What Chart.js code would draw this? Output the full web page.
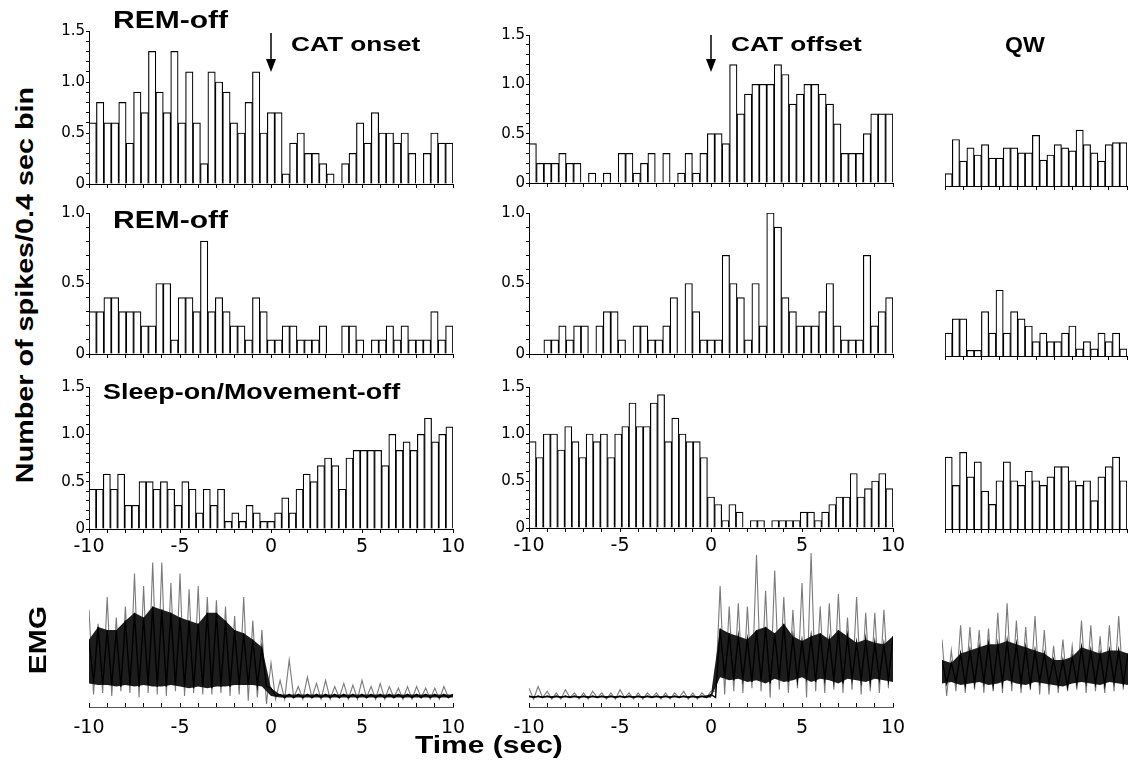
<!DOCTYPE html>
<html lang="es">
<head>
<meta charset="utf-8">
<title>Histogramas CAT</title>
<script src="https://cdn.jsdelivr.net/npm/chart.js@4.4.1/dist/chart.umd.min.js"></script>
<style>
    body { margin: 0; width: 1130px; height: 765px; position: relative; overflow: hidden; background: #fff; font-family: Arial, "Liberation Sans", sans-serif; color: #000; }
    canvas { position: absolute; }
    .titulo { position: absolute; font-weight: bold; line-height: 1; white-space: nowrap; transform-origin: 0 50%; transform: scaleX(1.25); }
    .vertical { position: absolute; font-weight: bold; line-height: 1; white-space: nowrap; transform: translate(-50%, -50%) rotate(-90deg) scaleX(1.25); }
</style>
</head>
<body>
<canvas id="h11" width="429" height="173" style="left:44px;top:21px"></canvas>
<canvas id="h12" width="429" height="168" style="left:484px;top:25px"></canvas>
<canvas id="h13" width="188" height="173" style="left:942px;top:21px"></canvas>
<canvas id="h21" width="429" height="161" style="left:44px;top:203px"></canvas>
<canvas id="h22" width="429" height="161" style="left:484px;top:203px"></canvas>
<canvas id="h23" width="188" height="161" style="left:942px;top:203px"></canvas>
<canvas id="h31" width="429" height="182" style="left:44px;top:377px"></canvas>
<canvas id="h32" width="429" height="181" style="left:484px;top:377px"></canvas>
<canvas id="h33" width="188" height="160" style="left:942px;top:377px"></canvas>
<canvas id="e1" width="428" height="192" style="left:57px;top:550px"></canvas>
<canvas id="e2" width="428" height="192" style="left:497px;top:550px"></canvas>
<canvas id="e3" width="188" height="157" style="left:942px;top:550px"></canvas>

<div class="titulo" style="left:113px;top:8px;font-size:24px">REM-off</div>
<div class="titulo" style="left:291px;top:33px;font-size:21px">CAT onset</div>
<div class="titulo" style="left:731px;top:33px;font-size:21px">CAT offset</div>
<div class="titulo" style="left:1005px;top:34px;font-size:22px;transform:scaleX(1.05)">QW</div>
<div class="titulo" style="left:113px;top:208px;font-size:24px">REM-off</div>
<div class="titulo" style="left:103px;top:382px;font-size:21.5px">Sleep-on/Movement-off</div>
<div class="vertical" style="left:25px;top:285px;font-size:23px">Number of spikes/0.4 sec bin</div>
<div class="vertical" style="left:38px;top:640px;font-size:24px">EMG</div>
<div class="titulo" style="left:415px;top:733px;font-size:24px">Time (sec)</div>

<script>
// ===== Datos =====
// Histogramas: spikes por bin de 0.4 s, de -10 a 10 s
const remOffInicio = [0.6,0.8,0.6,0.6,0.8,0.4,0.9,0.7,1.3,0.9,0.7,1.3,0.6,1.1,0.6,0.2,1.1,1.0,0.9,0.6,0.5,0.8,1.1,0.5,0.7,0.7,0.1,0.4,0.5,0.3,0.3,0.2,0.1,0,0.2,0.3,0.6,0.4,0.7,0.5,0.5,0.4,0.5,0.3,0,0.3,0.5,0.4,0.4];
const remOff2Inicio = [0.3,0.3,0.4,0.4,0.3,0.3,0.3,0.2,0.2,0.5,0.5,0.1,0.4,0.4,0.3,0.8,0.3,0.4,0.3,0.2,0.2,0.1,0.4,0.3,0.1,0.1,0.2,0.2,0.1,0.1,0.1,0.2,0,0,0.2,0.2,0.1,0,0.1,0.1,0.2,0.1,0.2,0.1,0.1,0.1,0.3,0.1,0.2];
const suenoOnInicio = [0.42,0.42,0.58,0.42,0.58,0.25,0.25,0.5,0.5,0.42,0.5,0.42,0.25,0.5,0.42,0.17,0.42,0.25,0.42,0.08,0.17,0.08,0.25,0.17,0.08,0.08,0.17,0.33,0.17,0.42,0.58,0.5,0.67,0.75,0.67,0.42,0.75,0.83,0.83,0.83,0.83,0.67,1.0,0.83,0.92,0.83,1.0,1.17,0.92,1.0,1.08];
const remOffFin = [0.4,0.2,0.2,0.2,0.3,0.2,0.2,0,0.1,0,0.1,0,0.3,0.3,0.1,0.2,0.3,0,0.3,0,0.1,0.3,0.1,0.3,0.5,0.5,0.4,1.2,0.7,0.9,1.0,1.0,1.0,1.2,1.1,0.8,0.9,1.0,1.0,0.9,0.8,0.6,0.3,0.3,0.3,0.5,0.7,0.7,0.7];
const remOff2Fin = [0,0,0.1,0.1,0.2,0.1,0.2,0.2,0,0.2,0.3,0.3,0.1,0,0.2,0.2,0.1,0.1,0.2,0.4,0,0.5,0.3,0.1,0.1,0.1,0.7,0.5,0.4,0.1,0.5,0.2,1.0,0.9,0.4,0.3,0.2,0.2,0.2,0.3,0.5,0.2,0.1,0.1,0.1,0.7,0.2,0.3,0.4];
const suenoOnFin = [0.92,0.75,1.0,1.0,0.83,1.08,0.92,0.75,1.0,0.92,1.0,0.75,1.0,1.08,1.33,1.08,1.08,1.33,1.42,0.92,1.17,1.0,0.92,0.92,0.75,0.33,0.25,0.08,0.25,0.17,0,0.08,0.08,0,0.08,0.08,0.08,0.08,0.17,0.17,0.08,0.17,0.25,0.33,0.33,0.58,0.33,0.42,0.5,0.58,0.42];

// QW: 25 bins de 0.4 s (10 s)
const qwFila1 = [0.12,0.45,0.24,0.37,0.3,0.4,0.27,0.27,0.37,0.37,0.32,0.32,0.49,0.25,0.3,0.4,0.37,0.34,0.54,0.4,0.32,0.24,0.4,0.42,0.42];
const qwFila2 = [0.16,0.26,0.26,0.04,0.04,0.31,0.16,0.46,0.16,0.31,0.26,0.21,0.1,0.16,0.1,0.1,0.16,0.21,0.05,0.1,0.05,0.16,0.1,0.16,0.05];
const qwFila3 = [0.76,0.46,0.81,0.55,0.71,0.4,0.26,0.51,0.71,0.51,0.46,0.61,0.51,0.46,0.55,0.66,0.66,0.51,0.46,0.51,0.3,0.55,0.66,0.76,0.51];

// EMG (unidades arbitrarias): picos cada 0.5 s, valles a mitad de camino, banda oscura cada 0.5 s
const emgInicioPicos = [62,53,70,57,64,85,77,92,92,79,85,75,77,70,68,64,58,70,55,49,28,17,30,13,19,15,17,13,15,14,17,13,15,13,12,13,13,12,12,13];
const emgInicioValles = [8,9,7,10,9,6,9,8,7,10,7,9,8,8,9,7,8,4,6,2,5,5,6,5,6,5,5,6,5,5,6,5,5,6,5,5,6,5,5,6];
const emgInicioSup = [43,51,49,49,55,60,57,64,62,60,57,55,53,60,60,55,49,47,43,38,12,8,8,8,8,8,8,8,8,8,8,8,8,8,8,8,8,8,8,8,8];
const emgInicioInf = [15,14,14,13,14,13,14,13,13,14,13,12,13,12,13,13,14,14,14,13,7,6,6,6,6,6,6,6,6,6,6,6,6,6,6,6,6,6,6,6,6];

const emgFinPicos = [12,13,10,9,11,9,9,10,9,9,11,9,9,9,9,9,9,10,9,9,10,77,64,66,64,97,74,87,70,62,79,98,64,66,72,57,70,60,60,62];
const emgFinValles = [5,6,5,5,6,5,5,6,5,5,6,5,5,6,5,5,6,5,5,6,10,8,10,9,12,10,6,11,9,12,6,10,9,11,9,11,8,10,9,12];
const emgFinSup = [7,7,7,7,7,7,7,7,7,7,7,7,7,7,7,7,7,7,7,7,8,50,47,45,43,49,51,47,53,45,42,45,47,43,49,45,41,43,41,40,45];
const emgFinInf = [6,6,6,6,6,6,6,6,6,6,6,6,6,6,6,6,6,6,6,6,6,19,17,18,16,17,15,18,16,17,19,16,18,17,15,18,17,16,18,17,16];

const emgQwPicos = [43,36,52,51,49,50,60,66,55,51,58,49,39,43,39,55,52,45,52,58];
const emgQwValles = [7,10,9,11,9,10,9,10,9,11,8,8,9,10,11,9,10,9,10,11];
const emgQwSup = [30,28,34,36,38,40,40,42,40,38,36,34,30,30,32,38,36,34,36,36,34];
const emgQwInf = [15,16,14,15,16,14,15,17,15,14,16,15,14,13,15,16,15,14,16,15,14];

const etiquetasTiempo = [-10, -5, 0, 5, 10];
const etiquetasY = [0, 0.5, 1.0, 1.5];

// ===== Funciones =====
function puntosBins(valores, xMin, xMax) {
    let ancho = (xMax - xMin) / valores.length;
    let puntos = [];
    for (let i = 0; i < valores.length; i++) {
        puntos.push({ x: xMin + ancho * (i + 0.5), y: valores[i] });
    }
    return puntos;
}

function puntosTraza(valores, xMin, paso) {
    let puntos = [];
    for (let i = 0; i < valores.length; i++) {
        puntos.push({ x: xMin + paso * i, y: valores[i] });
    }
    return puntos;
}

// une picos (en t) y valles (en t + paso/2) para dar la textura del EMG
function zigzag(picos, valles, xMin, paso) {
    let puntos = [];
    for (let i = 0; i < picos.length; i++) {
        puntos.push({ x: xMin + paso * i, y: picos[i] });
        if (i < valles.length) {
            puntos.push({ x: xMin + paso * (i + 0.5), y: valles[i] });
        }
    }
    return puntos;
}

function etiquetaY(v) {
    for (let e of etiquetasY) {
        if (Math.abs(v - e) < 1e-6) {
            return e === 0 ? '0' : e.toFixed(1);
        }
    }
    return '';
}

// flecha que marca el tiempo 0 (CAT onset / offset)
const flecha = {
    id: 'flecha',
    afterDraw(chart, args, op) {
        if (!op || !op.mostrar) return;
        const c = chart.ctx;
        const x = chart.scales.x.getPixelForValue(0);
        const y1 = chart.chartArea.top + op.desde;
        const y2 = chart.chartArea.top + op.hasta;
        c.save();
        c.strokeStyle = '#000';
        c.fillStyle = '#000';
        c.lineWidth = 1.5;
        c.beginPath();
        c.moveTo(x, y1);
        c.lineTo(x, y2 - 10);
        c.stroke();
        c.beginPath();
        c.moveTo(x - 5, y2 - 13);
        c.lineTo(x + 5, y2 - 13);
        c.lineTo(x, y2);
        c.closePath();
        c.fill();
        c.restore();
    }
};

function histograma(id, valores, cfg) {
    const ctx = document.getElementById(id).getContext('2d');
    return new Chart(ctx, {
        type: 'bar',
        data: {
            datasets: [{
                data: puntosBins(valores, cfg.xMin, cfg.xMax),
                backgroundColor: '#ffffff',
                borderColor: '#000000',
                borderWidth: 1.2,
                borderSkipped: 'start',
                barPercentage: 1,
                categoryPercentage: 1
            }]
        },
        options: {
            responsive: false,
            animation: false,
            events: [],
            layout: { padding: { top: 10, right: cfg.derecha, left: 0, bottom: 0 } },
            plugins: {
                legend: { display: false },
                tooltip: { enabled: false },
                flecha: cfg.flecha || {}
            },
            scales: {
                x: {
                    type: 'linear',
                    min: cfg.xMin,
                    max: cfg.xMax,
                    offset: false,
                    grid: { drawOnChartArea: false, offset: false, color: '#000', tickLength: 4 },
                    border: { color: '#000', width: 1 },
                    ticks: {
                        stepSize: cfg.pasoX,
                        autoSkip: false,
                        maxRotation: 0,
                        padding: 3,
                        color: '#000',
                        font: { family: 'DejaVu Sans', size: 19 },
                        callback: v => (cfg.etiquetas && etiquetasTiempo.includes(v)) ? String(v) : ''
                    },
                    afterFit: s => { s.height = cfg.altoX; }
                },
                y: {
                    display: cfg.ejeY,
                    min: 0,
                    max: cfg.yMax,
                    grid: { drawOnChartArea: false, color: '#000', tickLength: 3 },
                    border: { color: '#000', width: 1 },
                    ticks: {
                        stepSize: 0.1,
                        autoSkip: false,
                        maxTicksLimit: 100,
                        padding: 1,
                        color: '#000',
                        font: { family: 'DejaVu Sans', size: 15 },
                        callback: v => etiquetaY(v)
                    },
                    afterFit: s => { s.width = cfg.ejeY ? 45 : 0; }
                }
            }
        },
        plugins: [flecha]
    });
}

function trazaEMG(id, picos, valles, sup, inf, cfg) {
    const ctx = document.getElementById(id).getContext('2d');
    return new Chart(ctx, {
        type: 'line',
        data: {
            datasets: [{
                // textura oscura: banda superior/inferior alternadas
                data: zigzag(sup, inf, cfg.xMin, 0.5),
                borderColor: '#000',
                borderWidth: 1.4,
                pointRadius: 0,
                fill: false
            }, {
                data: puntosTraza(sup, cfg.xMin, 0.5),
                borderWidth: 0,
                backgroundColor: '#1c1c1c',
                pointRadius: 0,
                fill: '+1'
            }, {
                data: puntosTraza(inf, cfg.xMin, 0.5),
                borderWidth: 0,
                pointRadius: 0,
                fill: false
            }, {
                data: zigzag(picos, valles, cfg.xMin, 0.5),
                borderColor: '#7a7a7a',
                borderWidth: 1.1,
                pointRadius: 0,
                fill: false
            }]
        },
        options: {
            responsive: false,
            animation: false,
            events: [],
            layout: { padding: { top: 0, right: cfg.derecha, left: cfg.izquierda, bottom: 0 } },
            plugins: { legend: { display: false }, tooltip: { enabled: false } },
            scales: {
                x: {
                    type: 'linear',
                    display: cfg.ejeX,
                    min: cfg.xMin,
                    max: cfg.xMax,
                    grid: { drawOnChartArea: false, color: '#000', tickLength: -4 },
                    border: { color: '#555', width: 1 },
                    ticks: {
                        stepSize: 1,
                        autoSkip: false,
                        maxRotation: 0,
                        padding: 14,
                        color: '#000',
                        font: { family: 'DejaVu Sans', size: 19 },
                        callback: v => etiquetasTiempo.includes(v) ? String(v) : ''
                    },
                    afterFit: s => { s.height = cfg.ejeX ? 35 : 0; }
                },
                y: { display: false, min: 0, max: 100 }
            }
        }
    });
}

// ===== Graficas =====
histograma('h11', remOffInicio, { xMin: -10, xMax: 10, pasoX: 1, yMax: 1.5, ejeY: true, etiquetas: false, altoX: 8, derecha: 20, flecha: { mostrar: true, desde: 2, hasta: 41 } });
histograma('h12', remOffFin, { xMin: -10, xMax: 10, pasoX: 1, yMax: 1.5, ejeY: true, etiquetas: false, altoX: 8, derecha: 20, flecha: { mostrar: true, desde: 0, hasta: 37 } });
histograma('h13', qwFila1, { xMin: 0, xMax: 10, pasoX: 1, yMax: 1.5, ejeY: false, etiquetas: false, altoX: 8, derecha: 2 });

histograma('h21', remOff2Inicio, { xMin: -10, xMax: 10, pasoX: 1, yMax: 1.0, ejeY: true, etiquetas: false, altoX: 8, derecha: 20 });
histograma('h22', remOff2Fin, { xMin: -10, xMax: 10, pasoX: 1, yMax: 1.0, ejeY: true, etiquetas: false, altoX: 8, derecha: 20 });
histograma('h23', qwFila2, { xMin: 0, xMax: 10, pasoX: 1, yMax: 1.0, ejeY: false, etiquetas: false, altoX: 8, derecha: 2 });

histograma('h31', suenoOnInicio, { xMin: -10, xMax: 10, pasoX: 1, yMax: 1.5, ejeY: true, etiquetas: true, altoX: 30, derecha: 20 });
histograma('h32', suenoOnFin, { xMin: -10, xMax: 10, pasoX: 1, yMax: 1.5, ejeY: true, etiquetas: true, altoX: 30, derecha: 20 });
histograma('h33', qwFila3, { xMin: 0, xMax: 10, pasoX: 0.4, yMax: 1.5, ejeY: false, etiquetas: false, altoX: 8, derecha: 2 });

trazaEMG('e1', emgInicioPicos, emgInicioValles, emgInicioSup, emgInicioInf, { xMin: -10, xMax: 10, ejeX: true, izquierda: 32, derecha: 32 });
trazaEMG('e2', emgFinPicos, emgFinValles, emgFinSup, emgFinInf, { xMin: -10, xMax: 10, ejeX: true, izquierda: 32, derecha: 32 });
trazaEMG('e3', emgQwPicos, emgQwValles, emgQwSup, emgQwInf, { xMin: 0, xMax: 10, ejeX: false, izquierda: 0, derecha: 2 });
</script>
</body>
</html>
